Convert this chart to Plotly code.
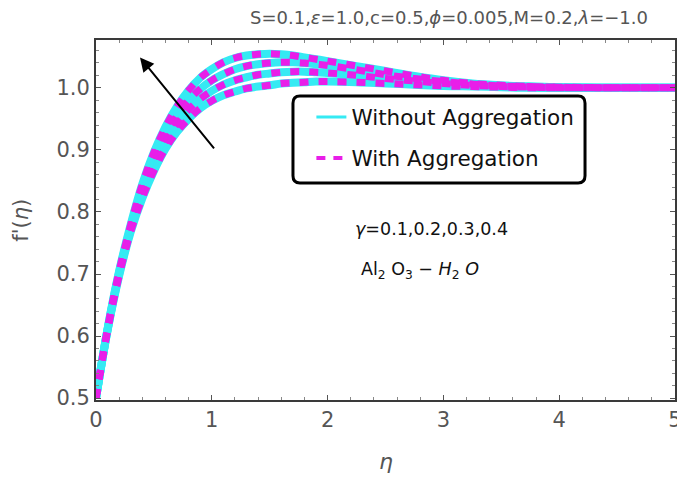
import plotly.graph_objects as go

eta = [0, 0.1, 0.2, 0.3, 0.4, 0.5, 0.6, 0.7, 0.8, 0.9, 1.0, 1.1, 1.2, 1.3, 1.4, 1.5,
       1.6, 1.7, 1.8, 1.9, 2.0, 2.25, 2.5, 2.75, 3.0, 3.25, 3.5, 3.75, 4.0, 4.5, 5.0]

gamma_01 = [0.5, 0.609, 0.697, 0.768, 0.822, 0.866, 0.902, 0.929, 0.950, 0.967, 0.979, 0.988, 0.994, 0.999,
            1.002, 1.004, 1.007, 1.008, 1.009, 1.010, 1.010, 1.009, 1.007, 1.005, 1.003, 1.002, 1.001, 1.0, 1.0, 1.0, 1.0]
gamma_02 = [0.5, 0.610, 0.700, 0.772, 0.830, 0.876, 0.913, 0.942, 0.965, 0.982, 0.995, 1.005, 1.012, 1.017,
            1.021, 1.023, 1.025, 1.026, 1.026, 1.025, 1.024, 1.020, 1.015, 1.011, 1.007, 1.004, 1.002, 1.001, 1.0, 1.0, 1.0]
gamma_03 = [0.5, 0.611, 0.703, 0.776, 0.838, 0.886, 0.924, 0.955, 0.980, 0.998, 1.012, 1.022, 1.030, 1.035,
            1.038, 1.040, 1.041, 1.041, 1.040, 1.038, 1.036, 1.029, 1.021, 1.015, 1.010, 1.006, 1.003, 1.002, 1.001, 1.0, 1.0]
gamma_04 = [0.5, 0.612, 0.705, 0.780, 0.845, 0.896, 0.937, 0.970, 0.996, 1.016, 1.030, 1.041, 1.048, 1.052,
            1.054, 1.055, 1.054, 1.052, 1.049, 1.046, 1.043, 1.035, 1.027, 1.019, 1.012, 1.007, 1.004, 1.002, 1.001, 1.0, 1.0]

curves = [gamma_01, gamma_02, gamma_03, gamma_04]
series_names = ["Without Aggregation", "With Aggregation"]
y_ticks = [0.5, 0.6, 0.7, 0.8, 0.9, 1.0]
y_tick_labels = ["0.5", "0.6", "0.7", "0.8", "0.9", "1.0"]

CYAN = "#35eaf3"
MAGENTA = "#e81ee8"
GRAY = "#555555"
FONT = "DejaVu Sans, Liberation Sans, Arial"

fig = go.Figure()
for c in curves:
    fig.add_trace(go.Scatter(x=eta, y=c, mode="lines", line=dict(color=CYAN, width=8, shape="spline"),
                             showlegend=False, hoverinfo="skip"))
for c in curves:
    fig.add_trace(go.Scatter(x=eta, y=c, mode="lines",
                             line=dict(color=MAGENTA, width=7, dash="9px,10px", shape="spline"),
                             showlegend=False, hoverinfo="skip"))

# legend entries (thin samples as in the reference legend)
fig.add_trace(go.Scatter(x=[None], y=[None], mode="lines", line=dict(color=CYAN, width=3),
                         name=series_names[0], legendgroup="a"))
fig.add_trace(go.Scatter(x=[None], y=[None], mode="lines", line=dict(color=MAGENTA, width=4, dash="9px,8px"),
                         name=series_names[1], legendgroup="b"))

axis_common = dict(showline=True, linecolor="#3a3a3a", linewidth=2, mirror="allticks", showgrid=False,
                   zeroline=False, ticks="inside", ticklen=5, tickcolor="#555555", automargin=False,
                   tickfont=dict(family=FONT, size=21, color=GRAY))

fig.update_xaxes(range=[0, 5], dtick=1, **axis_common,
                 minor=dict(ticks="inside", ticklen=3, tickcolor="#888888", dtick=0.2))
fig.update_yaxes(range=[0.497, 1.077], tickvals=y_ticks, ticktext=y_tick_labels, **axis_common,
                 minor=dict(ticks="inside", ticklen=3, tickcolor="#888888", dtick=0.02))

# axis titles
fig.add_annotation(x=-0.13, y=0.5, xref="paper", yref="paper", showarrow=False, textangle=-90,
                   xanchor="center", yanchor="middle",
                   text="f'(<i>η</i>)", font=dict(family=FONT, size=21, color=GRAY))
fig.add_annotation(x=0.5, y=-0.172, xref="paper", yref="paper", showarrow=False,
                   xanchor="center", yanchor="middle",
                   text="<i>η</i>", font=dict(family=FONT, size=22, color=GRAY))

# arrow
fig.add_annotation(x=0.38, y=1.049, ax=1.03, ay=0.90, xref="x", yref="y", axref="x", ayref="y",
                   text="", showarrow=True, arrowhead=2, arrowsize=1.4, arrowwidth=2, arrowcolor="black")

# title
fig.add_annotation(x=0.61, xref="paper", y=1.0, yref="paper", yshift=23, showarrow=False,
                   xanchor="center", yanchor="middle",
                   text="S=0.1,<i>ε</i>=1.0,c=0.5,<i>ϕ</i>=0.005,M=0.2,<i>λ</i>=−1.0",
                   font=dict(family=FONT, size=18, color=GRAY))

fig.add_annotation(x=2.9, y=0.7726, xref="x", yref="y", showarrow=False, xanchor="center", yanchor="middle",
                   text="<i>γ</i>=0.1,0.2,0.3,0.4",
                   font=dict(family=FONT, size=17.5, color="#111111"))
fig.add_annotation(x=2.8, y=0.706, xref="x", yref="y", showarrow=False, xanchor="center", yanchor="middle",
                   text="Al<sub>2</sub> O<sub>3</sub> − <i>H</i><sub>2</sub> <i>O</i>",
                   font=dict(family=FONT, size=17.5, color="#111111"))

# rounded legend frame
x0, x1 = 0.3402, 0.8446
y0, y1 = 0.6028, 0.8444
rx, ry = 0.012, 0.02
path = (f"M {x0+rx},{y1} L {x1-rx},{y1} Q {x1},{y1} {x1},{y1-ry} L {x1},{y0+ry} "
        f"Q {x1},{y0} {x1-rx},{y0} L {x0+rx},{y0} Q {x0},{y0} {x0},{y0+ry} "
        f"L {x0},{y1-ry} Q {x0},{y1} {x0+rx},{y1} Z")
fig.add_shape(type="path", path=path, xref="paper", yref="paper", layer="above",
              line=dict(color="black", width=3), fillcolor="white")

# the page body has an 8px default margin: size the figure so the plot lands where the reference has it
fig.update_layout(
    width=677, height=471,
    margin=dict(l=88, r=10, t=32, b=79),
    plot_bgcolor="white", paper_bgcolor="white",
    legend=dict(x=0.372, y=0.843, xanchor="left", yanchor="top", bgcolor="rgba(0,0,0,0)",
                borderwidth=0, font=dict(family=FONT, size=21.5, color="#111111"),
                itemwidth=30, tracegroupgap=10),
    showlegend=True,
)

fig.write_html("out.html")
